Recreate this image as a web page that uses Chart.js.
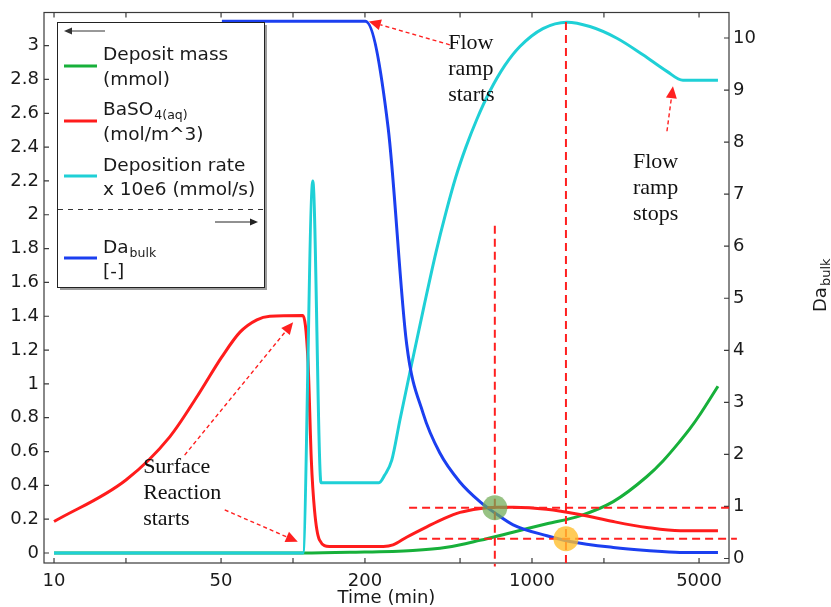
<!DOCTYPE html>
<html>
<head>
<meta charset="utf-8">
<title>Deposition kinetics</title>
<script src="https://cdn.jsdelivr.net/npm/chart.js@4.4.1/dist/chart.umd.min.js"></script>
<style>
  html, body { margin: 0; padding: 0; background: #fff; }
  #wrap { width: 831px; height: 607px; position: relative; }
</style>
</head>
<body>
<div id="wrap"><canvas id="depChart"></canvas></div>
<script>
// axis ticks
const xTicks = [10, 20, 50, 100, 200, 500, 1000, 2000, 5000];
const xLabels = [10, 50, 200, 1000, 5000];
const leftTicks = [0, 0.2, 0.4, 0.6, 0.8, 1, 1.2, 1.4, 1.6, 1.8, 2, 2.2, 2.4, 2.6, 2.8, 3];
const rightTicks = [0, 1, 2, 3, 4, 5, 6, 7, 8, 9, 10];

// deposit mass (mmol), left axis
const massT = [10, 110, 173, 317, 440, 605, 832, 1154, 1587, 2188, 3018, 3541, 4160, 4580, 5044, 6000];
const massV = [0, 0, 0.004, 0.015, 0.034, 0.075, 0.123, 0.173, 0.22, 0.304, 0.451, 0.546, 0.661, 0.735, 0.819, 0.986];

// BaSO4(aq) (mol/m^3), left axis
const baso4T = [10, 20, 30.5, 40, 50.3, 60, 70.6, 80, 110, 115.5, 119.3, 123, 129, 142, 239, 262, 300, 363, 430, 500, 600, 720, 838, 1150, 1585, 2188, 3020, 4170, 6000];
const baso4V = [0.186, 0.432, 0.687, 0.933, 1.158, 1.306, 1.379, 1.4, 1.405, 1.139, 0.55, 0.255, 0.078, 0.039, 0.039, 0.048, 0.095, 0.155, 0.205, 0.24, 0.262, 0.27, 0.271, 0.259, 0.228, 0.186, 0.151, 0.131, 0.131];

// deposition rate x 10e6 (mmol/s), left axis
const rateT = [10, 110, 121, 131, 229, 242, 259, 280, 314, 353, 396, 436, 480, 529, 588, 666, 770, 890, 1111, 1400, 1747, 2266, 2913, 3669, 4281, 6000];
const rateV = [0, 0, 2.2, 0.416, 0.416, 0.461, 0.549, 0.785, 1.121, 1.457, 1.775, 2.011, 2.223, 2.4, 2.565, 2.73, 2.883, 2.995, 3.101, 3.139, 3.113, 3.044, 2.946, 2.848, 2.795, 2.795];

// Da_bulk (-), right axis
const daT = [50.4, 201, 250, 298.7, 350, 411.6, 499, 605, 699, 834, 1154, 1441, 2188, 3018, 4160, 6000];
const daV = [10.32, 10.32, 8.28, 4.13, 2.793, 2.026, 1.471, 1.094, 0.877, 0.647, 0.437, 0.328, 0.213, 0.155, 0.117, 0.117];

// red dashed guides and highlighted crossings
const guideAT = [699, 699], guideAV = [1.935, -0.08];     // left axis
const guideBT = [1387, 1387], guideBV = [3.14, -0.08];    // left axis
const guideCT = [306, 6673], guideCV = [0.975, 0.975];    // right axis
const guideDT = [337, 7200], guideDV = [0.38, 0.38];      // right axis
const spotT = [699, 1387], spotV = [0.975, 0.38];         // right axis
const spotColors = ['rgba(112,170,84,0.72)', 'rgba(255,190,45,0.8)'];

// text notes (time, left-axis value of first baseline) and arrows
const noteLines = [['Flow', 'ramp', 'starts'], ['Flow', 'ramp', 'stops'], ['Surface', 'Reaction', 'starts']];
const noteT = [446, 2645, 23.6];
const noteV = [2.983, 2.276, 0.473];
const arrowFromT = [453, 3670, 35.2, 51.8];
const arrowFromV = [3.005, 2.494, 0.579, 0.255];
const arrowToT = [207.6, 3889, 100.1, 104.7];
const arrowToV = [3.143, 2.76, 1.365, 0.067];

const FONT = 'DejaVu Sans';
const INK = '#1a1a1a';

const toPts = (ts, vs) => ts.map((t, i) => ({ x: t, y: vs[i] }));

const curve = (label, ts, vs, color, axis, order) => ({
    label, data: toPts(ts, vs), yAxisID: axis, order,
    borderColor: color, backgroundColor: color, borderWidth: 3,
    pointRadius: 0, cubicInterpolationMode: 'monotone'
});

const guide = (ts, vs, axis) => ({
    data: toPts(ts, vs), yAxisID: axis,
    borderColor: '#ff2020', borderWidth: 2, borderDash: [8, 5],
    pointRadius: 0, clip: false, order: 2
});

function arrow(c, x0, y0, x1, y1, color, dash, len, half) {
    const a = Math.atan2(y1 - y0, x1 - x0);
    const bx = x1 - Math.cos(a) * len, by = y1 - Math.sin(a) * len;
    c.strokeStyle = color;
    c.fillStyle = color;
    c.setLineDash(dash);
    c.beginPath();
    c.moveTo(x0, y0);
    c.lineTo(bx, by);
    c.stroke();
    c.setLineDash([]);
    c.beginPath();
    c.moveTo(x1, y1);
    c.lineTo(bx + Math.sin(a) * half, by - Math.cos(a) * half);
    c.lineTo(bx - Math.sin(a) * half, by + Math.cos(a) * half);
    c.closePath();
    c.fill();
}

function subText(c, main, sub, x, y, size, subSize, drop) {
    c.font = `${size}px "${FONT}"`;
    c.fillText(main, x, y);
    if (sub) {
        const w = c.measureText(main).width;
        c.font = `${subSize}px "${FONT}"`;
        c.fillText(sub, x + w + 1, y + drop);
    }
}

// keep the plot box where the layout padding puts it
const noEdgePad = sc => { sc.paddingTop = 0; sc.paddingBottom = 0; sc.paddingLeft = 0; sc.paddingRight = 0; };

const overlay = {
    id: 'overlay',
    beforeDatasetsDraw(chart) {
        // closed frame with inward ticks on all four sides
        const c = chart.ctx, a = chart.chartArea, s = chart.scales;
        c.save();
        c.strokeStyle = '#3a3a3a';
        c.lineWidth = 1.2;
        c.strokeRect(a.left, a.top, a.right - a.left, a.bottom - a.top);
        c.beginPath();
        xTicks.forEach(v => {
            const px = s.x.getPixelForValue(v);
            c.moveTo(px, a.bottom); c.lineTo(px, a.bottom - 5);
            c.moveTo(px, a.top); c.lineTo(px, a.top + 5);
        });
        leftTicks.forEach(v => {
            const py = s.y.getPixelForValue(v);
            c.moveTo(a.left, py); c.lineTo(a.left + 5, py);
        });
        rightTicks.forEach(v => {
            const py = s.y1.getPixelForValue(v);
            c.moveTo(a.right, py); c.lineTo(a.right - 5, py);
        });
        c.stroke();
        c.restore();
    },
    afterDatasetsDraw(chart) {
        const c = chart.ctx, s = chart.scales;
        c.save();

        // notes and red arrows
        c.fillStyle = '#111';
        c.font = '22px "Liberation Serif"';
        c.textBaseline = 'alphabetic';
        noteLines.forEach((lines, i) => {
            const x = s.x.getPixelForValue(noteT[i]);
            const y = s.y.getPixelForValue(noteV[i]);
            lines.forEach((txt, k) => c.fillText(txt, x, y + k * 26));
        });
        c.lineWidth = 1.4;
        arrowFromT.forEach((t, i) => {
            arrow(c, s.x.getPixelForValue(t), s.y.getPixelForValue(arrowFromV[i]),
                s.x.getPixelForValue(arrowToT[i]), s.y.getPixelForValue(arrowToV[i]),
                '#ff2020', [4, 3], 12, 5.5);
        });

        // key box
        c.fillStyle = '#9c9c9c';
        c.fillRect(60, 25, 207, 265);
        c.fillStyle = '#fff';
        c.fillRect(57, 22, 207, 265);
        c.strokeStyle = '#222';
        c.lineWidth = 1;
        c.strokeRect(57.5, 22.5, 207, 265);

        c.lineWidth = 1;
        arrow(c, 105, 31, 64, 31, '#333', [], 8, 3.5);
        arrow(c, 215, 222, 258, 222, '#222', [], 8, 3.5);
        c.strokeStyle = '#333';
        c.setLineDash([5, 5]);
        c.beginPath();
        c.moveTo(58, 209.5); c.lineTo(264, 209.5);
        c.stroke();
        c.setLineDash([]);

        const rows = [
            { ds: 0, y: 66, text: [['Deposit mass'], ['(mmol)']], base: [60, 85] },
            { ds: 1, y: 121, text: [['BaSO', '4(aq)'], ['(mol/m^3)']], base: [115, 140] },
            { ds: 2, y: 176, text: [['Deposition rate'], ['x 10e6 (mmol/s)']], base: [171, 195] },
            { ds: 3, y: 258, text: [['Da', 'bulk'], ['[-]']], base: [253, 277] }
        ];
        rows.forEach(r => {
            c.strokeStyle = chart.data.datasets[r.ds].borderColor;
            c.lineWidth = 3;
            c.beginPath();
            c.moveTo(64, r.y); c.lineTo(97, r.y);
            c.stroke();
            c.fillStyle = INK;
            r.text.forEach((t, k) => subText(c, t[0], t[1], 103, r.base[k], 18.5, 12.5, 4));
        });

        // right axis title
        c.translate(826, 312);
        c.rotate(-Math.PI / 2);
        c.fillStyle = INK;
        subText(c, 'Da', 'bulk', 0, 0, 18, 13, 4);
        c.restore();
    }
};

const tickFont = { family: FONT, size: 18 };
const noGrid = { display: false, drawTicks: false, tickLength: 0 };

new Chart(document.getElementById('depChart'), {
    type: 'line',
    data: {
        datasets: [
            curve('Deposit mass (mmol)', massT, massV, '#17b03a', 'y', 6),
            curve('BaSO4(aq) (mol/m^3)', baso4T, baso4V, '#ff1c1c', 'y', 5),
            curve('Deposition rate x 10e6 (mmol/s)', rateT, rateV, '#1fd0d6', 'y', 4),
            curve('Da_bulk [-]', daT, daV, '#1b3ff0', 'y1', 3),
            guide(guideAT, guideAV, 'y'),
            guide(guideBT, guideBV, 'y'),
            guide(guideCT, guideCV, 'y1'),
            guide(guideDT, guideDV, 'y1'),
            {
                data: toPts(spotT, spotV), yAxisID: 'y1', showLine: false,
                pointRadius: 12.5, pointBorderWidth: 0,
                pointBackgroundColor: spotColors, order: 1
            }
        ]
    },
    options: {
        responsive: true,
        maintainAspectRatio: false,
        animation: false,
        layout: { padding: { top: 11, left: 0, right: 0, bottom: 0 } },
        plugins: { legend: { display: false }, tooltip: { enabled: false } },
        scales: {
            x: {
                type: 'logarithmic', min: 9.08, max: 6673,
                grid: noGrid, border: { display: false },
                afterBuildTicks: sc => { sc.ticks = xTicks.map(v => ({ value: v })); },
                afterFit: sc => { sc.height = 44; noEdgePad(sc); },
                ticks: {
                    autoSkip: false, maxRotation: 0, padding: 8, color: INK, font: tickFont,
                    callback: v => xLabels.includes(v) ? String(v) : ''
                },
                title: {
                    display: true, text: 'Time (min)', color: INK, padding: 0,
                    font: { family: FONT, size: 18, lineHeight: 1 }
                }
            },
            y: {
                position: 'left', min: -0.059, max: 3.196,
                grid: noGrid, border: { display: false },
                afterBuildTicks: sc => { sc.ticks = leftTicks.map(v => ({ value: v })); },
                afterFit: sc => { sc.width = 44; noEdgePad(sc); },
                ticks: { autoSkip: false, padding: 5, color: INK, font: tickFont, callback: v => String(v) }
            },
            y1: {
                position: 'right', min: -0.086, max: 10.49,
                grid: noGrid, border: { display: false },
                afterBuildTicks: sc => { sc.ticks = rightTicks.map(v => ({ value: v })); },
                afterFit: sc => { sc.width = 102; noEdgePad(sc); },
                ticks: { autoSkip: false, padding: 4, color: INK, font: tickFont, callback: v => String(v) }
            }
        }
    },
    plugins: [overlay]
});
</script>
</body>
</html>
